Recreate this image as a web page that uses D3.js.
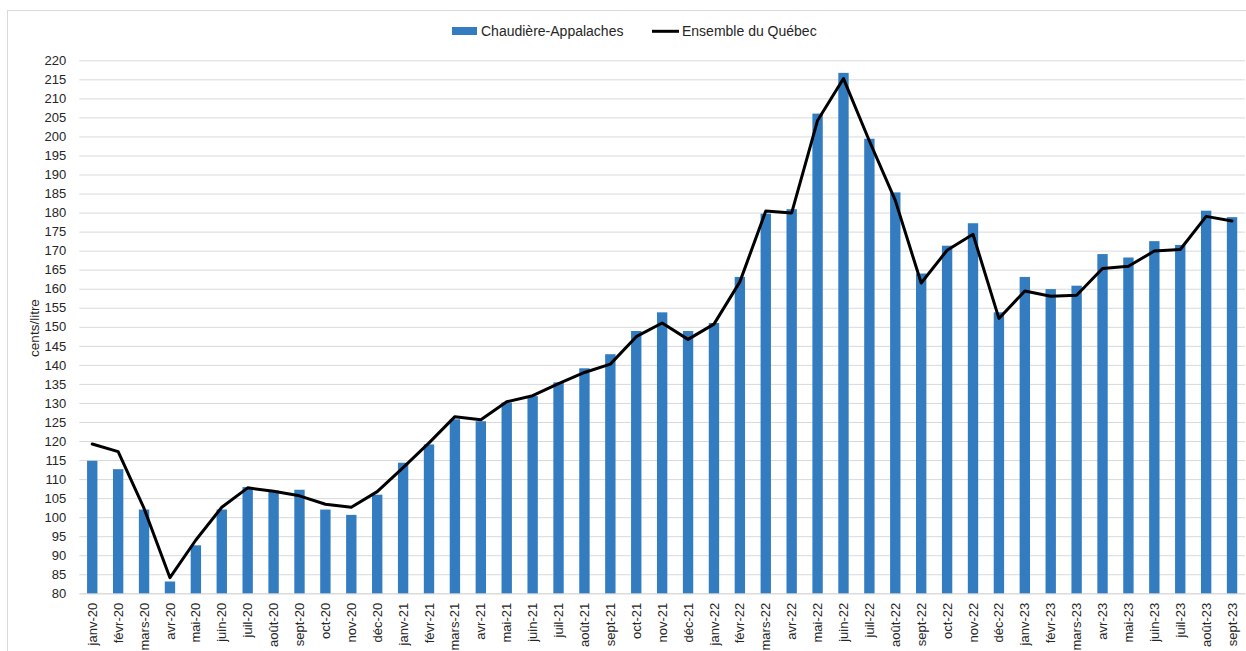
<!DOCTYPE html>
<html>
<head>
<meta charset="utf-8">
<script src="https://cdn.jsdelivr.net/npm/d3@7"></script>
<style>
  html, body { margin: 0; padding: 0; background: #fff; }
  svg { display: block; font-family: "Liberation Sans", Arial, sans-serif; }
</style>
</head>
<body>
<svg id="chart" width="1246" height="651"></svg>
<script>
const months = [
  "janv-20","févr-20","mars-20","avr-20","mai-20","juin-20","juil-20","août-20","sept-20","oct-20","nov-20","déc-20",
  "janv-21","févr-21","mars-21","avr-21","mai-21","juin-21","juil-21","août-21","sept-21","oct-21","nov-21","déc-21",
  "janv-22","févr-22","mars-22","avr-22","mai-22","juin-22","juil-22","août-22","sept-22","oct-22","nov-22","déc-22",
  "janv-23","févr-23","mars-23","avr-23","mai-23","juin-23","juil-23","août-23","sept-23"
];
const chaudiereAppalaches = [
  114.8, 112.6, 102.0, 83.1, 92.6, 102.0, 107.9, 107.0, 107.2, 102.0, 100.6, 105.9,
  114.3, 119.1, 125.7, 125.2, 130.1, 131.8, 135.4, 139.1, 142.8, 148.9, 153.8, 148.9,
  151.0, 163.1, 179.7, 180.9, 206.0, 216.7, 199.4, 185.3, 164.0, 171.3, 177.2, 153.8,
  163.1, 159.9, 160.8, 169.1, 168.2, 172.5, 171.5, 180.5, 178.8
];
const ensembleQuebec = [
  119.2, 117.2, 102.3, 84.1, 94.0, 102.6, 107.7, 106.8, 105.6, 103.4, 102.6, 106.7,
  113.0, 119.5, 126.4, 125.6, 130.3, 131.9, 135.1, 138.0, 140.2, 147.4, 151.0, 146.7,
  150.7, 161.8, 180.4, 179.9, 204.2, 215.2, 198.8, 183.2, 161.5, 170.1, 174.3, 152.2,
  159.4, 158.0, 158.3, 165.3, 165.9, 169.9, 170.3, 179.0, 177.8
];
const yTicks = d3.range(80, 221, 5);
const seriesNames = ["Chaudière-Appalaches", "Ensemble du Québec"];
const yTitle = "cents/litre";

(function () {
const svg = d3.select("#chart");
const pLeft = 79.3, pRight = 1245, pTop = 60.3, pBottom = 593.3;
const barColor = "#337cc0";
const gridColor = "#d9d9d9";
const textColor = "#262626";

// outer border
svg.append("rect").attr("x", 7.5).attr("y", 10.5).attr("width", 1260).attr("height", 660)
  .attr("fill", "none").attr("stroke", gridColor).attr("stroke-width", 1);

const x = d3.scaleBand().domain(months).range([pLeft, pRight]).paddingInner(0.6).paddingOuter(0.3);
const y = d3.scaleLinear().domain([80, 220]).range([pBottom, pTop]);

// gridlines + y axis
const yAxis = d3.axisLeft(y).tickValues(yTicks).tickSize(-(pRight - pLeft)).tickPadding(13);
const gy = svg.append("g").attr("transform", `translate(${pLeft},0)`).call(yAxis);
gy.select(".domain").remove();
gy.selectAll(".tick line").attr("stroke", gridColor).attr("stroke-width", 1);
gy.selectAll(".tick text").attr("fill", textColor).style("font-size", "13px")
  .style("font-family", "'Liberation Sans', Arial, sans-serif");

// x axis
const xAxis = d3.axisBottom(x).tickSize(0).tickPadding(0);
const gx = svg.append("g").attr("transform", `translate(0,${pBottom})`).call(xAxis);
gx.select(".domain").attr("stroke", gridColor);
gx.selectAll(".tick text")
  .attr("fill", textColor).style("font-size", "13px")
  .style("font-family", "'Liberation Sans', Arial, sans-serif")
  .attr("text-anchor", "end")
  .attr("transform", "translate(0,9.5) rotate(-90)")
  .attr("x", 0).attr("y", 0).attr("dy", "0.35em");

// bars
svg.append("g").selectAll("rect").data(months).join("rect")
  .attr("x", d => x(d))
  .attr("width", x.bandwidth())
  .attr("y", (d, i) => y(chaudiereAppalaches[i]))
  .attr("height", (d, i) => y(80) - y(chaudiereAppalaches[i]))
  .attr("fill", barColor);

// line
const line = d3.line()
  .x((d, i) => x(months[i]) + x.bandwidth() / 2)
  .y(d => y(d));
svg.append("path").datum(ensembleQuebec)
  .attr("d", line).attr("fill", "none").attr("stroke", "#000")
  .attr("stroke-width", 3).attr("stroke-linejoin", "round").attr("stroke-linecap", "round");

// y title
svg.append("text").attr("transform", "translate(38.5,328) rotate(-90)")
  .attr("text-anchor", "middle").attr("fill", textColor).style("font-size", "13.5px")
  .text(yTitle);

// legend
const lg = svg.append("g");
lg.append("rect").attr("x", 452).attr("y", 27).attr("width", 25).attr("height", 8).attr("fill", barColor);
lg.append("text").attr("x", 481).attr("y", 36).attr("fill", textColor).style("font-size", "14px").text(seriesNames[0]);
lg.append("line").attr("x1", 652).attr("x2", 679).attr("y1", 31.3).attr("y2", 31.3)
  .attr("stroke", "#000").attr("stroke-width", 3);
lg.append("text").attr("x", 682).attr("y", 36).attr("fill", textColor).style("font-size", "14px").text(seriesNames[1]);
})();
</script>
</body>
</html>
